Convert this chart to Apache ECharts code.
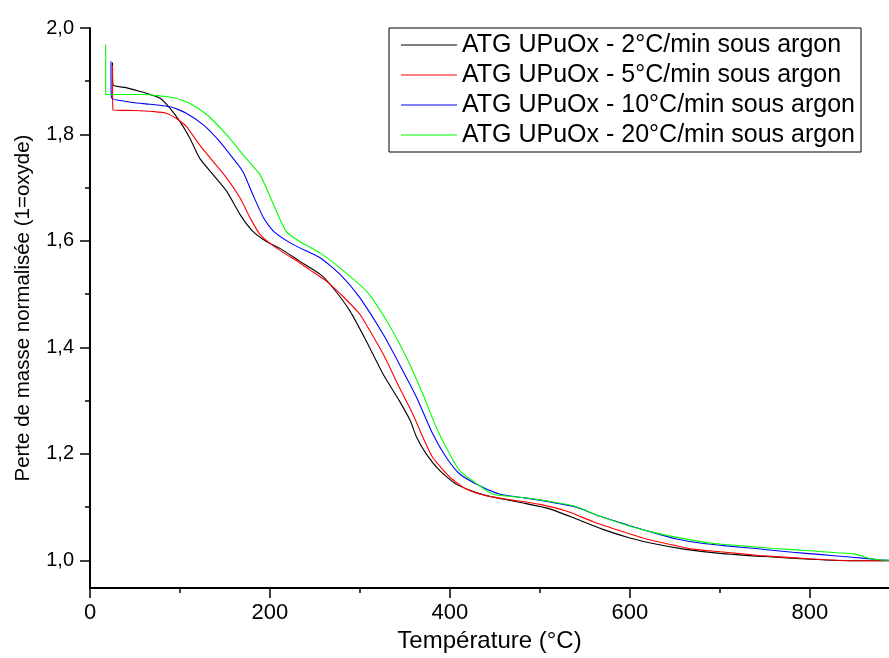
<!DOCTYPE html>
<html>
<head>
<meta charset="utf-8">
<script src="https://cdn.jsdelivr.net/npm/echarts@6/dist/echarts.min.js"></script>
<style>
html,body{margin:0;padding:0;background:#fff;}
#chart{width:889px;height:658px;}
</style>
</head>
<body>
<div id="chart"></div>
<script>
// Series labels
var seriesNames = [
  'ATG UPuOx - 2°C/min sous argon',
  'ATG UPuOx - 5°C/min sous argon',
  'ATG UPuOx - 10°C/min sous argon',
  'ATG UPuOx - 20°C/min sous argon'
];

// 2 °C/min (black)
var temp2 = [25,25.5,40,55,67,78,89,100,111,122,137,152,167,181,196,212,233,256,270,289,307,326,344,356,363,374,389,407,430,450,480,510,540,570,600,630,660,700,750,800,850,888];
var mass2 = [1.935,1.893,1.888,1.881,1.875,1.868,1.849,1.824,1.793,1.755,1.724,1.693,1.649,1.618,1.599,1.585,1.562,1.537,1.512,1.468,1.412,1.349,1.299,1.262,1.231,1.199,1.168,1.143,1.127,1.118,1.108,1.097,1.078,1.058,1.042,1.030,1.021,1.013,1.007,1.002,0.999,0.999];

// 5 °C/min (red)
var temp5 = [25,25.5,50,70,85,96,107,122,137,152,167,178,189,207,233,244,263,281,300,307,326,344,359,370,381,400,418,441,470,500,530,560,590,618,650,670,700,744,780,819,850,888];
var mass5 = [1.930,1.846,1.845,1.843,1.840,1.830,1.815,1.780,1.749,1.718,1.680,1.643,1.612,1.587,1.559,1.546,1.524,1.496,1.462,1.443,1.387,1.324,1.274,1.231,1.193,1.156,1.134,1.121,1.113,1.105,1.092,1.072,1.055,1.040,1.028,1.021,1.016,1.009,1.005,1.001,0.999,0.999];

// 10 °C/min (blue)
var temp10 = [23.3,23.8,40,59,89,107,126,144,159,170,181,193,204,226,256,278,300,326,344,363,381,396,411,433,456,480,510,540,566,600,630,652,680,707,740,781,810,844,878,888];
var mass10 = [1.937,1.869,1.862,1.858,1.852,1.840,1.818,1.787,1.755,1.730,1.687,1.643,1.618,1.593,1.568,1.537,1.493,1.424,1.368,1.306,1.237,1.193,1.162,1.140,1.124,1.118,1.110,1.100,1.083,1.065,1.050,1.040,1.032,1.027,1.022,1.015,1.011,1.006,1.001,1.000];

// 20 °C/min (green)
var temp20 = [17.4,17.4,40,59,93,111,130,152,170,189,204,218,233,256,278,307,330,352,370,385,400,411,433,448,480,510,540,566,600,630,652,690,726,760,800,830,850,867,888];
var mass20 = [1.969,1.875,1.875,1.875,1.869,1.858,1.837,1.799,1.762,1.724,1.668,1.618,1.599,1.577,1.549,1.506,1.449,1.380,1.312,1.249,1.199,1.168,1.140,1.124,1.118,1.111,1.101,1.083,1.064,1.051,1.043,1.032,1.027,1.022,1.018,1.014,1.012,1.003,1.000];

// Axis ticks
var xMajorTicks = [0,200,400,600,800];
var xMinorTicks = [100,300,500,700];
var yMajorTicks = [1.0,1.2,1.4,1.6,1.8,2.0];
var yMinorTicks = [1.1,1.3,1.5,1.7,1.9];

var colors = ['#000000','#ff0000','#0000ff','#00ff00'];
var temps = [temp2,temp5,temp10,temp20];
var masses = [mass2,mass5,mass10,mass20];

function zip(a,b){var r=[];for(var i=0;i<a.length;i++){r.push([a[i],b[i]]);}return r;}

var FONT = 'Liberation Sans, Arial, sans-serif';
var X_MIN = 0, X_MAX = 888, Y_MIN = 0.9477, Y_MAX = 2.0;

var series = seriesNames.map(function(n,i){
  return {
    name:n, type:'line', showSymbol:false, symbol:'none',
    smooth:0.2,
    data: zip(temps[i],masses[i]),
    lineStyle:{color:colors[i],width:1.1},
    itemStyle:{color:colors[i]},
    xAxisIndex:0, yAxisIndex:0,
    animation:false
  };
});

var chart = echarts.init(document.getElementById('chart'), null, {renderer:'canvas'});
chart.setOption({
  backgroundColor:'#ffffff',
  animation:false,
  textStyle:{fontFamily:FONT},
  grid:{left:90,right:0,top:28,bottom:67,containLabel:false},
  legend:{
    orient:'vertical', left:389, top:28,
    borderColor:'#000', borderWidth:1,
    padding:[2,6,2,12], itemGap:0,
    icon:'rect',
    itemWidth:56, itemHeight:1.2,
    textStyle:{fontSize:25,lineHeight:30,color:'#000',fontFamily:FONT},
    data:seriesNames
  },
  xAxis:[
    {
      type:'value', min:X_MIN, max:X_MAX, position:'bottom',
      name:'Température (°C)', nameLocation:'middle', nameGap:39,
      nameTextStyle:{fontSize:24,color:'#000',fontFamily:FONT},
      axisLine:{show:true,lineStyle:{color:'#000',width:2}},
      axisTick:{show:true,inside:false,length:10,customValues:xMajorTicks,lineStyle:{color:'#000',width:1.5}},
      axisLabel:{show:true,customValues:xMajorTicks,fontSize:22,color:'#000',margin:14,fontFamily:FONT},
      splitLine:{show:false}
    },
    {
      type:'value', min:X_MIN, max:X_MAX, position:'bottom',
      axisLine:{show:false},
      axisTick:{show:true,inside:false,length:5,customValues:xMinorTicks,lineStyle:{color:'#000',width:1.5}},
      axisLabel:{show:false},
      splitLine:{show:false}
    }
  ],
  yAxis:[
    {
      type:'value', min:Y_MIN, max:Y_MAX, position:'left',
      name:'Perte de masse normalisée (1=oxyde)', nameLocation:'middle', nameGap:56,
      nameTextStyle:{fontSize:20.5,color:'#000',fontFamily:FONT},
      axisLine:{show:true,lineStyle:{color:'#000',width:2}},
      axisTick:{show:true,inside:false,length:10,customValues:yMajorTicks,lineStyle:{color:'#000',width:1.5}},
      axisLabel:{show:true,customValues:yMajorTicks,fontSize:20,color:'#000',margin:16,fontFamily:FONT,
        formatter:function(v){return v.toFixed(1).replace('.',',');}},
      splitLine:{show:false}
    },
    {
      type:'value', min:Y_MIN, max:Y_MAX, position:'left',
      axisLine:{show:false},
      axisTick:{show:true,inside:false,length:5,customValues:yMinorTicks,lineStyle:{color:'#000',width:1.5}},
      axisLabel:{show:false},
      splitLine:{show:false}
    }
  ],
  series:series
});
</script>
</body>
</html>
